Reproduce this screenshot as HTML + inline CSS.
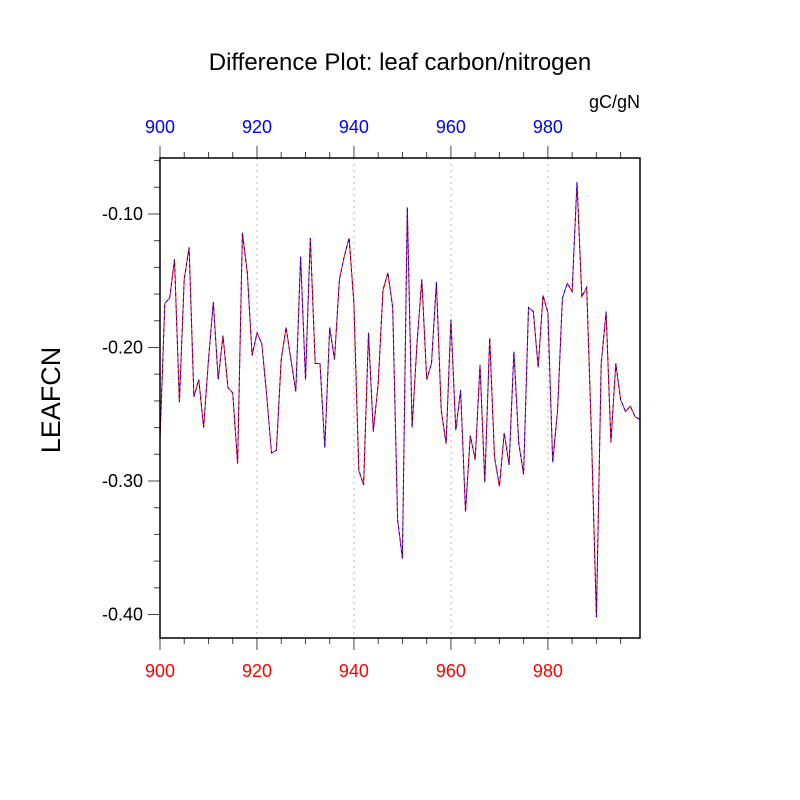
<!DOCTYPE html>
<html><head><meta charset="utf-8"><style>
body{margin:0;background:#fff}
svg{display:block;font-family:"Liberation Sans",sans-serif}
</style></head><body>
<svg id="chart" width="800" height="800">
<text x="400" y="70" text-anchor="middle" font-size="24">Difference Plot: leaf carbon/nitrogen</text>
<text x="640" y="108" text-anchor="end" font-size="18">gC/gN</text>
<text transform="translate(60,400) rotate(-90)" text-anchor="middle" font-size="27">LEAFCN</text>
<g id="grid"></g><g id="axes"></g><g id="series"></g>
<rect x="160" y="158" width="480" height="480" fill="none" stroke="#000" stroke-width="1.5"/>
</svg>
<script>
const years=[];for(let y=900;y<=999;y++)years.push(y);
const values=[-0.269,-0.167,-0.163,-0.134,-0.241,-0.149,-0.125,-0.237,-0.224,-0.260,
-0.209,-0.166,-0.224,-0.191,-0.230,-0.234,-0.287,-0.114,-0.144,-0.206,
-0.189,-0.197,-0.236,-0.279,-0.277,-0.209,-0.185,-0.209,-0.233,-0.132,
-0.224,-0.118,-0.212,-0.212,-0.275,-0.185,-0.209,-0.149,-0.132,-0.118,
-0.167,-0.292,-0.303,-0.189,-0.263,-0.227,-0.157,-0.144,-0.170,-0.329,
-0.358,-0.095,-0.260,-0.197,-0.149,-0.224,-0.212,-0.151,-0.247,-0.272,
-0.179,-0.262,-0.232,-0.323,-0.266,-0.284,-0.213,-0.301,-0.193,-0.282,
-0.304,-0.264,-0.288,-0.203,-0.272,-0.295,-0.170,-0.173,-0.215,-0.161,
-0.174,-0.286,-0.247,-0.163,-0.152,-0.158,-0.076,-0.162,-0.155,-0.267,
-0.402,-0.212,-0.173,-0.271,-0.212,-0.239,-0.248,-0.244,-0.252,-0.254];
const xTicks=[900,920,940,960,980];
const yTicks=[-0.10,-0.20,-0.30,-0.40];
const yTickLabels=["-0.10","-0.20","-0.30","-0.40"];
const X0=160,X1=640,Y0=158,Y1=638,xMin=900,xMax=999;
const yTop=-0.1+(214-158)/1335, yBot=-0.1-(638-214)/1335;
function sx(v){return X0+(v-xMin)/(xMax-xMin)*(X1-X0);}
function sy(v){return Y0+(yTop-v)/(yTop-yBot)*(Y1-Y0);}
const NS="http://www.w3.org/2000/svg";
function mk(tag,attrs,parent){const e=document.createElementNS(NS,tag);for(const k in attrs)e.setAttribute(k,attrs[k]);document.getElementById(parent).appendChild(e);return e;}
xTicks.slice(1).forEach(t=>{
 const g=mk('line',{x1:sx(t),x2:sx(t),y1:Y0,y2:Y1,stroke:'#bbb','stroke-width':1,'stroke-dasharray':'2,4'},'grid');
 
 
});
for(let t=900;t<=995;t+=5){
 const len=(t%20===0)?12:6;
 const a=mk('line',{x1:sx(t),x2:sx(t),y1:Y1,y2:Y1+len,stroke:'#444'},'axes');
 
 
 const b=mk('line',{x1:sx(t),x2:sx(t),y1:Y0,y2:Y0-len,stroke:'#444'},'axes');
 
 
}
xTicks.forEach(t=>{
 const l=mk('text',{x:sx(t),y:677,'text-anchor':'middle','font-size':18,fill:'#f00'},'axes');l.textContent=t;
 
 
 const u=mk('text',{x:sx(t),y:133,'text-anchor':'middle','font-size':18,fill:'#00f'},'axes');u.textContent=t;
 
 
});
for(let i=0;i<=18;i++){
 const v=-0.06-i*0.02; if(v<yBot||v>yTop)continue;
 const major=Math.abs(Math.round(v*100)%10)===0;
 const len=major?12:6;
 const a=mk('line',{x1:X0,x2:X0-len,y1:sy(v),y2:sy(v),stroke:'#444'},'axes');
 
 
}
yTicks.forEach((t,i)=>{
 const l=mk('text',{x:143,y:sy(t)+6,'text-anchor':'end','font-size':18},'axes');l.textContent=yTickLabels[i];
 
 
});
const pts=years.map((y,i)=>sx(y).toFixed(1)+','+sy(values[i]).toFixed(1)).join(' ');
const r=mk('polyline',{points:pts,fill:'none',stroke:'#f00','stroke-width':1},'series');


const b=mk('polyline',{points:pts,fill:'none',stroke:'#00f','stroke-width':1,'stroke-dasharray':'3,3'},'series');


</script>
</body></html>
